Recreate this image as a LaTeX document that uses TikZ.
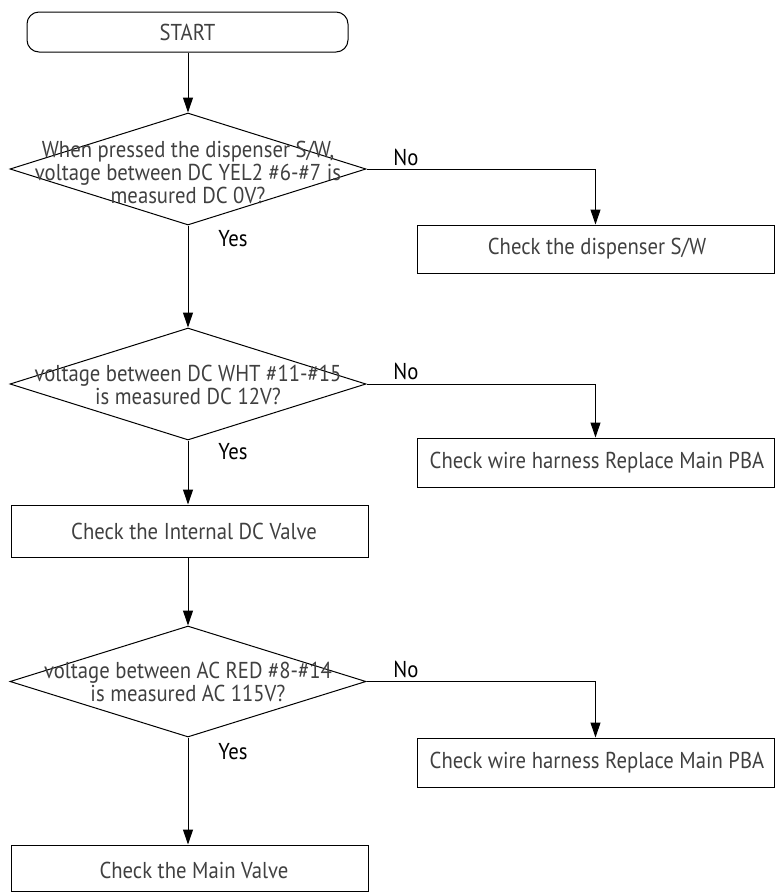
\documentclass[tikz,border=0pt]{standalone}
\usepackage{fontspec}
\setmainfont{PT Sans}[FakeStretch=0.9]
\usetikzlibrary{shapes.geometric,arrows.meta}
\definecolor{txt}{HTML}{404040}
\tikzset{
  every picture/.style={x=1pt,y=-1pt},
  lbl/.style={font=\fontsize{23}{23}\selectfont, text=txt, inner sep=0pt, align=center},
  yn/.style={font=\fontsize{23}{23}\selectfont, text=black, inner sep=0pt},
  boxn/.style={draw, line width=1pt, rectangle, inner sep=0pt},
  dia/.style={draw, line width=1pt, diamond, inner sep=0pt},
  conn/.style={draw, line width=1pt, -{Triangle[length=15pt,width=10pt]}},
}
\begin{document}
\begin{tikzpicture}
\useasboundingbox (0,0) rectangle (775,892);
% start
\node[boxn, rounded corners=12pt, minimum width=321pt, minimum height=40pt] (start) at (187.5,32) {};
\node[lbl] (startt) at (187.5,32) {START};
% decision 1
\node[dia, minimum width=356pt, minimum height=112pt] (d1) at (188,169) {};
\node[lbl] (d1t) at (188,172) {When pressed the dispenser S/W,\\voltage between DC YEL2 \#6-\#7 is\\measured DC 0V?};
\node[boxn, minimum width=357pt, minimum height=48pt] (b1) at (595.5,249) {};
\node[lbl] (b1t) at (597,249) {Check the dispenser S/W};
% decision 2
\node[dia, minimum width=356pt, minimum height=112pt] (d2) at (188,384) {};
\node[lbl] (d2t) at (188,385) {voltage between DC WHT \#11-\#15\\is measured DC 12V?};
\node[boxn, minimum width=357pt, minimum height=49pt] (b2) at (595.5,462.5) {};
\node[lbl] (b2t) at (597,462.5) {Check wire harness Replace Main PBA};
% internal dc valve
\node[boxn, minimum width=357pt, minimum height=52pt] (b3) at (189.5,531) {};
\node[lbl] (b3t) at (194,531) {Check the Internal DC Valve};
% decision 3
\node[dia, minimum width=356pt, minimum height=111pt] (d3) at (188,681.5) {};
\node[lbl] (d3t) at (188,681.5) {voltage between AC RED \#8-\#14\\is measured AC 115V?};
\node[boxn, minimum width=357pt, minimum height=49pt] (b4) at (595.5,762.5) {};
\node[lbl] (b4t) at (597,762.5) {Check wire harness Replace Main PBA};
% main valve
\node[boxn, minimum width=357pt, minimum height=46pt] (b5) at (189.5,868) {};
\node[lbl] (b5t) at (194,870) {Check the Main Valve};
% labels
\node[yn] (no1) at (406,157) {No};
\node[yn] (yes1) at (233,239) {Yes};
\node[yn] (no2) at (406,371) {No};
\node[yn] (yes2) at (233,452) {Yes};
\node[yn] (no3) at (406,669) {No};
\node[yn] (yes3) at (233,752) {Yes};
% connectors
\draw[conn] (start.south -| d1.north) -- (d1.north);
\draw[conn] (d1.south) -- (d2.north);
\draw[conn] (d1.east) -| (b1.north);
\draw[conn] (d2.east) -| (b2.north);
\draw[conn] (d2.south) -- (d2.south |- b3.north);
\draw[conn] (b3.south -| d3.north) -- (d3.north);
\draw[conn] (d3.east) -| (b4.north);
\draw[conn] (d3.south) -- (d3.south |- b5.north);
\end{tikzpicture}
\end{document}
